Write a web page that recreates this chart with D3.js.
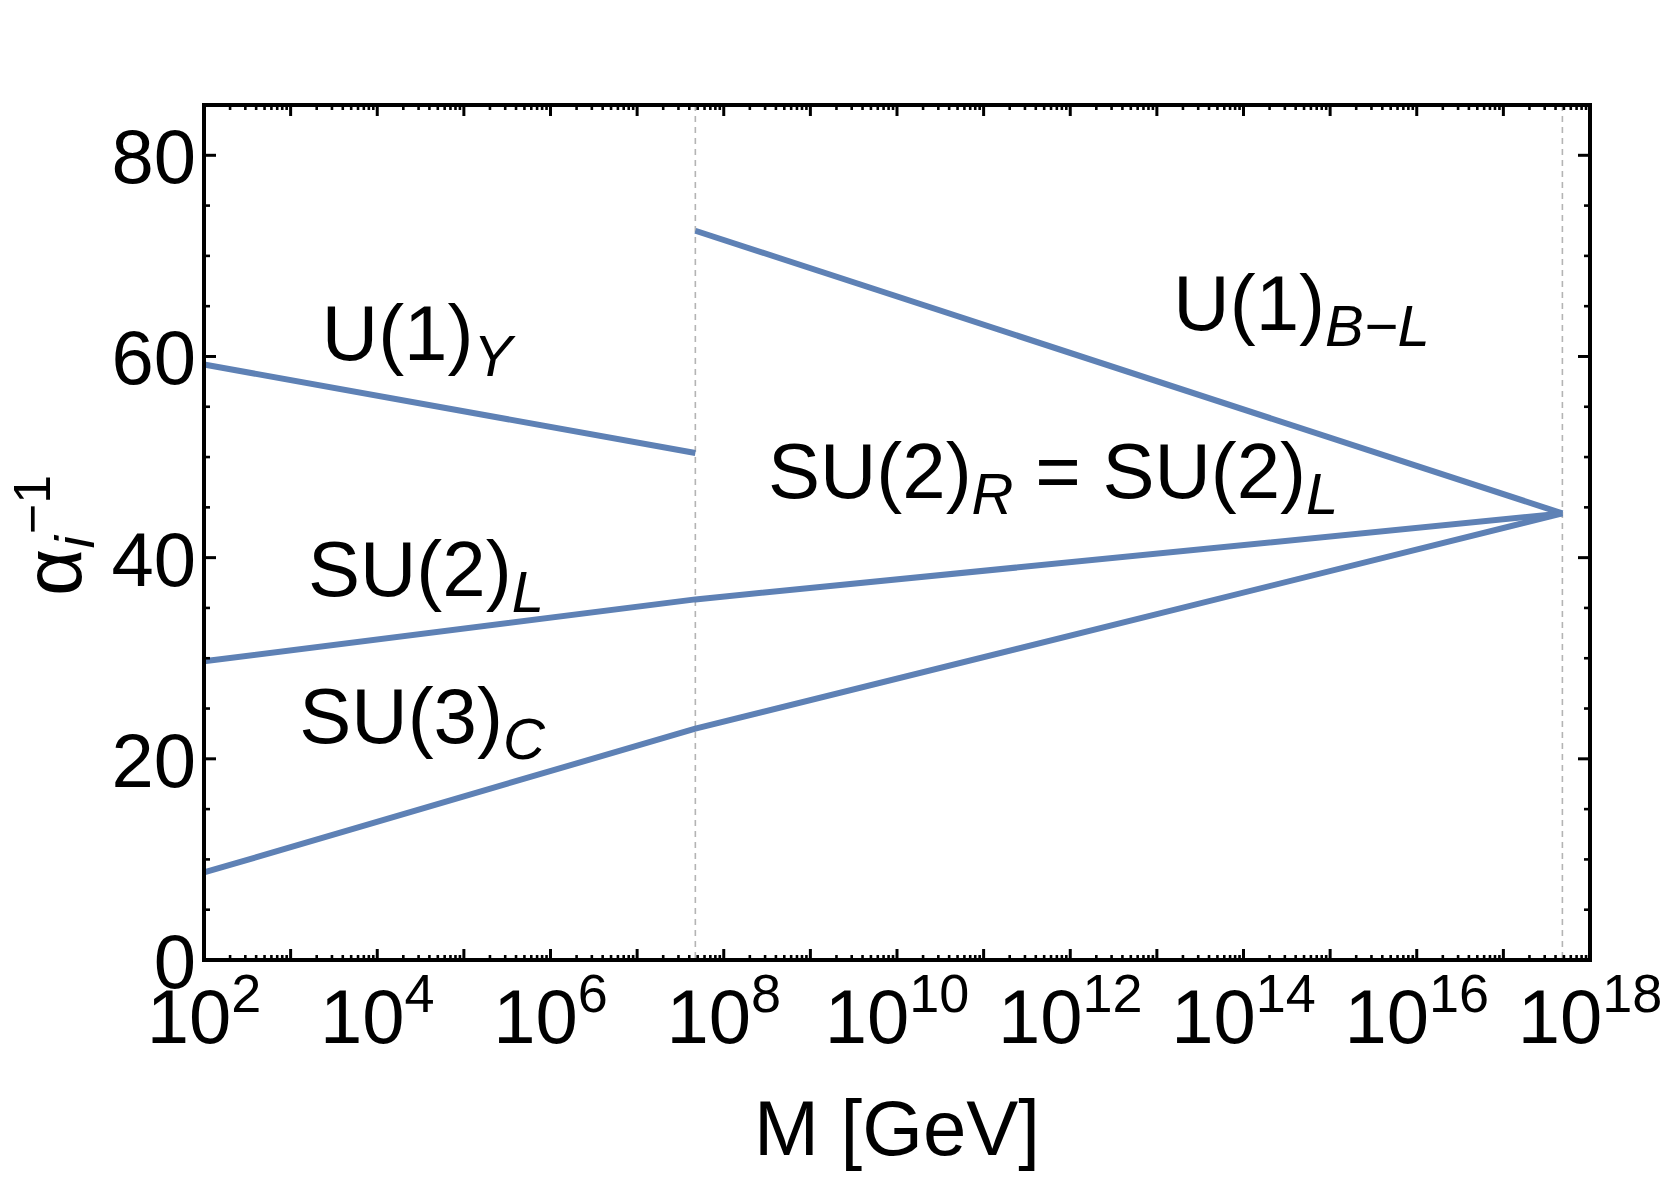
<!DOCTYPE html>
<html>
<head>
<meta charset="utf-8">
<script src="https://cdn.jsdelivr.net/npm/d3@7"></script>
<style>
  body { margin: 0; background: #fff; }
  svg text { font-family: "Liberation Sans", Arial, Helvetica, sans-serif; fill: #000; }
</style>
</head>
<body>
<div id="chart"></div>
<script>
// thresholds (GeV) : left-right breaking scale and unification scale
var thresholds = [4.7e7, 4.8e17];

// running couplings, alpha_i^-1 at the given scales
var u1yM = [1e2, 4.7e7],           u1yV = [59.2, 50.4];
var u1blM = [4.7e7, 4.8e17],       u1blV = [72.5, 44.4];
var su2lM = [1e2, 4.7e7, 4.8e17],  su2lV = [29.7, 35.85, 44.4];
var su3cM = [1e2, 4.7e7, 4.8e17],  su3cV = [8.7, 23.0, 44.4];

// tick values
var xMajorExp = d3.range(2, 19);          // 10^2 .. 10^18
var xLabelExp = [2, 4, 6, 8, 10, 12, 14, 16, 18];
var yMajor = [0, 20, 40, 60, 80];

// curve labels: [base, subscript, log10(M), alpha^-1]
var labels = [
  ["U(1)", "Y", 3.36, 59.6],
  ["U(1)", "B\u2212L", 13.19, 62.6],
  ["SU(2)", "R", 8.51, 45.9, " = SU(2)", "L"],
  ["SU(2)", "L", 3.2, 36.2],
  ["SU(3)", "C", 3.1, 21.6]
];

var W = 1667, H = 1178;
var margin = {top: 105, right: 77, bottom: 218, left: 204};
var pw = W - margin.left - margin.right, ph = H - margin.top - margin.bottom;

var svg = d3.select("#chart").append("svg").attr("width", W).attr("height", H);
var g = svg.append("g").attr("transform", "translate(" + margin.left + "," + margin.top + ")");

var x = d3.scaleLog().domain([1e2, 1e18]).range([0, pw]);
var y = d3.scaleLinear().domain([0, 85]).range([ph, 0]);

// dashed threshold lines
g.selectAll(".thr").data(thresholds).enter().append("line")
  .attr("x1", function(d){ return x(d); }).attr("x2", function(d){ return x(d); })
  .attr("y1", 0).attr("y2", ph)
  .attr("stroke", "#b4b4b4").attr("stroke-width", 1.6)
  .attr("stroke-dasharray", "6,5");

// curves
var line = d3.line().x(function(d){ return x(d[0]); }).y(function(d){ return y(d[1]); });
var curves = [[u1yM, u1yV], [u1blM, u1blV], [su2lM, su2lV], [su3cM, su3cV]];
g.selectAll(".curve").data(curves).enter().append("path")
  .attr("d", function(c){ return line(d3.zip(c[0], c[1])); })
  .attr("fill", "none").attr("stroke", "#5e81b5").attr("stroke-width", 6)
  .attr("stroke-linejoin", "round");

// ticks (inside on all four sides)
var xMinor = [];
xMajorExp.slice(0, -1).forEach(function(e){
  for (var k = 2; k <= 9; k++) xMinor.push(k * Math.pow(10, e));
});
var xMaj = xMajorExp.map(function(e){ return Math.pow(10, e); });
var yMinor = d3.range(0, 86, 5).filter(function(v){ return v % 20 !== 0; });

function ticksX(vals, len, w) {
  [[ph, -1], [0, 1]].forEach(function(s){
    g.append("g").selectAll("line").data(vals).enter().append("line")
      .attr("x1", function(d){ return x(d); }).attr("x2", function(d){ return x(d); })
      .attr("y1", s[0]).attr("y2", s[0] + s[1] * len)
      .attr("stroke", "#000").attr("stroke-width", w);
  });
}
function ticksY(vals, len, w) {
  [[0, 1], [pw, -1]].forEach(function(s){
    g.append("g").selectAll("line").data(vals).enter().append("line")
      .attr("y1", function(d){ return y(d); }).attr("y2", function(d){ return y(d); })
      .attr("x1", s[0]).attr("x2", s[0] + s[1] * len)
      .attr("stroke", "#000").attr("stroke-width", w);
  });
}
ticksX(xMinor, 5, 2.6);
ticksX(xMaj, 11, 3);
ticksY(yMinor, 6, 2.6);
ticksY(yMajor, 12, 3);

// frame
g.append("rect").attr("x", 0).attr("y", 0).attr("width", pw).attr("height", ph)
  .attr("fill", "none").attr("stroke", "#000").attr("stroke-width", 4);

// y tick labels
g.selectAll(".ylab").data(yMajor).enter().append("text")
  .attr("x", -8).attr("y", function(d){ return y(d) + 28; })
  .attr("text-anchor", "end").attr("font-size", 76)
  .text(function(d){ return d; });

// x tick labels 10^n
var xl = g.selectAll(".xlab").data(xLabelExp).enter().append("text")
  .attr("x", function(d){ return x(Math.pow(10, d)); }).attr("y", ph + 83)
  .attr("text-anchor", "middle").attr("font-size", 76);
xl.append("tspan").text("10");
xl.append("tspan").attr("dy", -31).attr("font-size", 54).text(function(d){ return d; });

// axis titles
svg.append("text").attr("x", margin.left + pw / 2).attr("y", 1155)
  .attr("text-anchor", "middle").attr("font-size", 78).text("M [GeV]");

var yt = svg.append("text").attr("transform", "translate(81,596) rotate(-90)")
  .attr("text-anchor", "start").attr("font-size", 82);
yt.append("tspan").text("\u03b1");
yt.append("tspan").attr("dy", 13).attr("font-size", 56).attr("font-style", "italic").text("i");
yt.append("tspan").attr("dy", -44).attr("dx", 2).attr("font-size", 52).text("\u22121");

// curve labels
labels.forEach(function(l){
  var t = g.append("text").attr("x", x(Math.pow(10, l[2]))).attr("y", y(l[3]))
    .attr("font-size", 78);
  t.append("tspan").text(l[0]);
  t.append("tspan").attr("dy", 16).attr("font-size", 58).attr("font-style", "italic").text(l[1]);
  if (l[4]) {
    t.append("tspan").attr("dy", -16).text(l[4]);
    t.append("tspan").attr("dy", 16).attr("font-size", 58).attr("font-style", "italic").text(l[5]);
  }
});
</script>
</body>
</html>
